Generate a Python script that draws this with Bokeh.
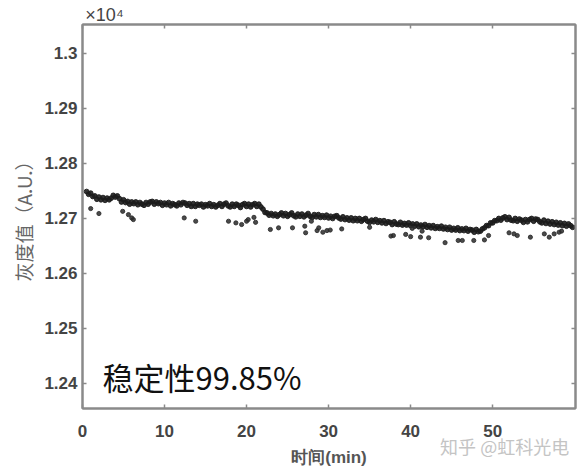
from bokeh.plotting import figure
from bokeh.models import (Range1d, FixedTicker, LinearAxis, Label,
                          CustomJSTickFormatter, CustomLabelingPolicy)
from bokeh.embed import file_html
from bokeh.resources import INLINE

# ---- data (grey value counts; axis shows x10^4) ----
t_start = 0.5      # min, first sample of the dense trace
t_step = 0.25      # min, sampling interval of the dense trace
band_counts = [
    12749, 12744, 12746, 12740,  12741, 12735, 12739, 12734,  12738, 12733, 12737, 12734,
    12737, 12742, 12739, 12741,  12736, 12730, 12734, 12729,  12731, 12726, 12730, 12727,
    12730, 12725, 12729, 12726,  12724, 12729, 12726, 12730,  12731, 12726, 12730, 12727,
    12729, 12724, 12728, 12725,  12729, 12723, 12727, 12725,  12723, 12728, 12725, 12729,
    12728, 12724, 12727, 12722,  12727, 12722, 12726, 12724,  12726, 12721, 12725, 12723,
    12727, 12722, 12725, 12721,  12724, 12727, 12722, 12726,  12728, 12723, 12721, 12726,
    12722, 12726, 12724, 12720,  12725, 12727, 12722, 12726,  12721, 12725, 12727, 12722,
    12726, 12721, 12717, 12711,  12710, 12706, 12709, 12705,  12708, 12704, 12707, 12710,
    12705, 12709, 12704, 12707,  12710, 12705, 12703, 12708,  12704, 12708, 12703, 12706,
    12709, 12704, 12702, 12707,  12703, 12707, 12702, 12705,  12702, 12706, 12701, 12704,
    12700, 12704, 12705, 12701,  12699, 12703, 12698, 12701,  12697, 12701, 12696, 12700,
    12696, 12700, 12695, 12698,  12700, 12695, 12693, 12697,  12694, 12698, 12693, 12696,
    12692, 12696, 12691, 12694,  12693, 12689, 12694, 12690,  12689, 12693, 12688, 12691,
    12688, 12692, 12687, 12690,  12686, 12690, 12685, 12688,  12685, 12689, 12684, 12687,
    12683, 12687, 12682, 12685,  12682, 12686, 12681, 12684,  12680, 12684, 12679, 12682,
    12679, 12683, 12678, 12681,  12678, 12682, 12677, 12680,  12679, 12675, 12680, 12676,
    12677, 12681, 12683, 12687,  12687, 12692, 12692, 12696,  12696, 12700, 12697, 12701,
    12703, 12698, 12702, 12697,  12696, 12700, 12695, 12699,  12697, 12693, 12698, 12694,
    12698, 12700, 12695, 12699,  12698, 12694, 12692, 12697,  12691, 12695, 12690, 12694,
    12689, 12693, 12688, 12692,  12687, 12691, 12686, 12690,  12687, 12684,
]
outlier_time = [1.0, 2.0, 4.9, 5.6, 6.0, 6.2, 12.4, 13.8, 17.8, 18.7, 19.4, 20.0, 20.2,
                20.9, 21.1, 22.9, 23.9, 25.6, 27.1, 27.2, 27.9, 28.6, 28.8, 29.3, 29.8,
                30.2, 31.6, 35.0, 37.6, 37.9, 39.4, 40.0, 40.2, 41.2, 41.4, 42.2, 44.2,
                45.8, 46.3, 47.7, 49.0, 49.5, 52.0, 52.6, 53.0, 54.6, 56.3, 56.9, 57.5,
                58.1, 58.4]
outlier_counts = [12718, 12709, 12713, 12707, 12701, 12698, 12701, 12695, 12695, 12692,
                  12689, 12695, 12698, 12702, 12693, 12680, 12683, 12683, 12686, 12674,
                  12695, 12678, 12683, 12675, 12678, 12679, 12681, 12684, 12668, 12669,
                  12671, 12667, 12682, 12666, 12677, 12665, 12656, 12660, 12660, 12660,
                  12661, 12669, 12674, 12672, 12669, 12666, 12672, 12666, 12672, 12675,
                  12677]
x_ticks = [0, 10, 20, 30, 40, 50]
y_ticks = [1.24, 1.25, 1.26, 1.27, 1.28, 1.29, 1.30]
scale = 1e4
exponent_text = "×10⁴"
exponent_pos = [2.68]       # x position (min) of the exponent marker
annotation = "稳定性99.85%"
x_title = "时间(min)"
y_title = "灰度值（A.U.）"
watermark = "知乎 @虹科光电"
watermark_pos = [51.46]     # x position (min) of the watermark

band_time = [t_start + i * t_step for i in range(len(band_counts))]
band_y = [c / scale for c in band_counts]
outlier_y = [c / scale for c in outlier_counts]

GRAY = "#8a8a8a"
LABEL = "#444444"

p = figure(width=586, height=470, output_backend="svg", toolbar_location=None,
           x_range=Range1d(0, 60.1), y_range=Range1d(1.23545, 1.30527),
           min_border_left=82, min_border_right=11, min_border_top=24, min_border_bottom=62)
p.xgrid.visible = False
p.ygrid.visible = False
p.outline_line_color = GRAY
p.outline_line_width = 2
p.background_fill_color = "white"
p.border_fill_color = "white"

fmt = CustomJSTickFormatter(code="return Number(tick.toFixed(2)).toString();")

for ax in p.xaxis:
    ax.ticker = FixedTicker(ticks=x_ticks)
for ax in p.yaxis:
    ax.ticker = FixedTicker(ticks=y_ticks)
    ax.formatter = fmt

for ax in list(p.xaxis) + list(p.yaxis):
    ax.axis_line_color = GRAY
    ax.axis_line_width = 2
    ax.major_tick_in = 4
    ax.major_tick_out = 0
    ax.major_tick_line_color = GRAY
    ax.major_tick_line_width = 1.5
    ax.minor_tick_line_color = None
    ax.major_label_text_font = "Liberation Sans"
    ax.major_label_text_font_style = "bold"
    ax.major_label_text_font_size = "17px"
    ax.major_label_text_color = LABEL

p.xaxis.major_label_standoff = 16
p.xaxis.axis_label = x_title
p.xaxis.axis_label_text_font = "Liberation Sans"
p.xaxis.axis_label_text_font_style = "bold"
p.xaxis.axis_label_text_font_size = "17px"
p.xaxis.axis_label_text_color = "#555555"
p.xaxis.axis_label_standoff = 8

p.yaxis.major_label_standoff = 5
p.yaxis.axis_label = y_title
p.yaxis.axis_label_text_font = "Noto Sans CJK SC"
p.yaxis.axis_label_text_font_style = "normal"
p.yaxis.axis_label_text_font_size = "19px"
p.yaxis.axis_label_text_color = "#666666"
p.yaxis.axis_label_standoff = 4

# mirrored ticks on top and right (no labels)
no_labels = CustomLabelingPolicy(code="""
for (const i of indices) indices.unset(i)
return indices
""")
top = LinearAxis(ticker=FixedTicker(ticks=x_ticks), major_label_policy=no_labels,
                 major_label_text_font_size="1px", major_label_standoff=0,
                 major_tick_in=4, major_tick_out=0,
                 axis_line_color=GRAY, axis_line_width=2, major_tick_line_color=GRAY,
                 major_tick_line_width=1.5, minor_tick_line_color=None)
right = LinearAxis(ticker=FixedTicker(ticks=y_ticks), major_label_policy=no_labels,
                   major_label_text_font_size="1px", major_label_standoff=0,
                   major_tick_in=4, major_tick_out=0,
                   axis_line_color=GRAY, axis_line_width=2, major_tick_line_color=GRAY,
                   major_tick_line_width=1.5, minor_tick_line_color=None)
p.add_layout(top, "above")
p.add_layout(right, "right")

# exponent marker: label-only axis stacked above the frame
exp_axis = LinearAxis(ticker=FixedTicker(ticks=exponent_pos),
                      formatter=CustomJSTickFormatter(args=dict(label=exponent_text),
                                                      code="return label;"),
                      axis_line_color=None, major_tick_line_color=None,
                      minor_tick_line_color=None, major_label_standoff=-10,
                      major_label_text_font="Liberation Sans",
                      major_label_text_font_size="18px", major_label_text_color="#444444")
p.add_layout(exp_axis, "above")

# watermark: label-only axis stacked below, pulled up beside the x title
wm_axis = LinearAxis(ticker=FixedTicker(ticks=watermark_pos),
                     formatter=CustomJSTickFormatter(args=dict(label=watermark),
                                                     code="return label;"),
                     axis_line_color=None, major_tick_line_color=None,
                     minor_tick_line_color=None, major_label_standoff=-43,
                     major_label_text_font="Noto Sans CJK SC",
                     major_label_text_font_size="18px", major_label_text_color="#c4c4c4")
p.add_layout(wm_axis, "below")

p.scatter(band_time, band_y, size=4.8, color="#1c1c1c", alpha=0.9)
p.scatter(outlier_time, outlier_y, size=4.2, color="#2a2a2a", alpha=0.85)

p.add_layout(Label(x=2.44, y=1.2413, text=annotation, text_font="Noto Sans CJK SC",
                   text_font_size="31px", text_color="#111111", text_baseline="middle"))

open("out.html", "w").write(file_html(p, INLINE))
